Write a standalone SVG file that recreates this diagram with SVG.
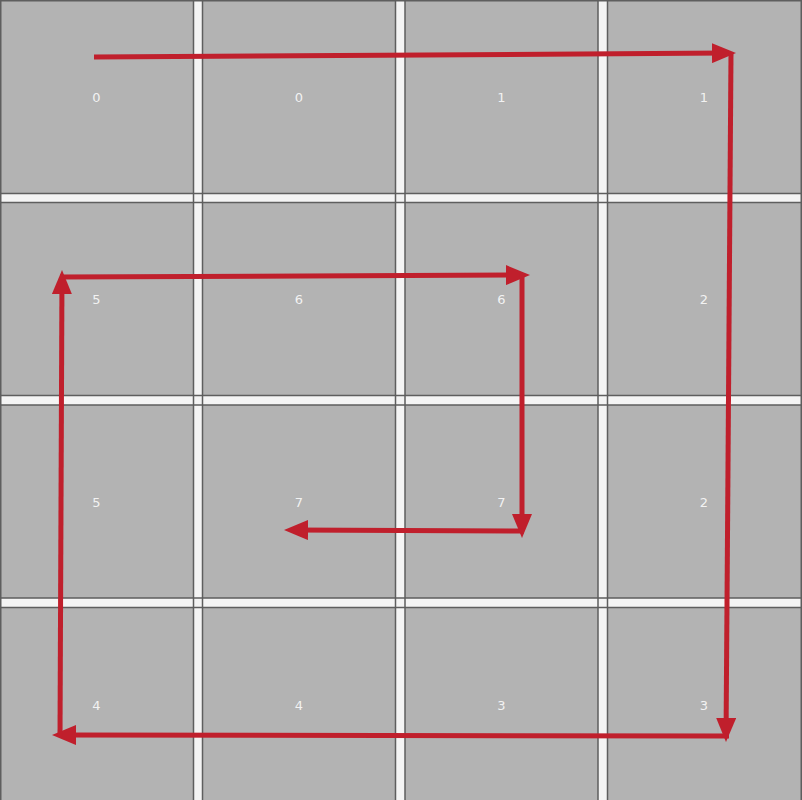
<svg xmlns="http://www.w3.org/2000/svg" width="802" height="800" viewBox="0 0 802 800">
<style>
.cell{fill:#b3b3b3}
.grid{stroke:#5e5e5e;stroke-width:1.5}
.lbl{font-family:"DejaVu Sans","Liberation Sans",sans-serif;font-size:13px;fill:#f2f2f2;text-anchor:middle}
.arrow{fill:none;stroke:#c01f2c;stroke-width:5;marker-end:url(#ah)}
</style>
<defs>
<marker id="ah" markerUnits="userSpaceOnUse" viewBox="0 -10 24 20" refX="14" refY="0" markerWidth="24" markerHeight="20" orient="auto">
<path d="M0,-10 L24,0 L0,10 z" fill="#c01f2c"/>
</marker>
</defs>
<rect x="0" y="0" width="802" height="800" fill="#f4f4f4"/>
<g id="c00"><rect class="cell" x="0.5" y="0.5" width="193" height="193"/><text class="lbl" x="96.5" y="101.5">0</text></g>
<g id="c01"><rect class="cell" x="202.5" y="0.5" width="193" height="193"/><text class="lbl" x="299" y="101.5">0</text></g>
<g id="c02"><rect class="cell" x="405" y="0.5" width="193" height="193"/><text class="lbl" x="501.5" y="101.5">1</text></g>
<g id="c03"><rect class="cell" x="607.5" y="0.5" width="194" height="193"/><text class="lbl" x="704" y="101.5">1</text></g>
<g id="c10"><rect class="cell" x="0.5" y="202.5" width="193" height="193"/><text class="lbl" x="96.5" y="304">5</text></g>
<g id="c11"><rect class="cell" x="202.5" y="202.5" width="193" height="193"/><text class="lbl" x="299" y="304">6</text></g>
<g id="c12"><rect class="cell" x="405" y="202.5" width="193" height="193"/><text class="lbl" x="501.5" y="304">6</text></g>
<g id="c13"><rect class="cell" x="607.5" y="202.5" width="194" height="193"/><text class="lbl" x="704" y="304">2</text></g>
<g id="c20"><rect class="cell" x="0.5" y="405" width="193" height="193"/><text class="lbl" x="96.5" y="506.5">5</text></g>
<g id="c21"><rect class="cell" x="202.5" y="405" width="193" height="193"/><text class="lbl" x="299" y="506.5">7</text></g>
<g id="c22"><rect class="cell" x="405" y="405" width="193" height="193"/><text class="lbl" x="501.5" y="506.5">7</text></g>
<g id="c23"><rect class="cell" x="607.5" y="405" width="194" height="193"/><text class="lbl" x="704" y="506.5">2</text></g>
<g id="c30"><rect class="cell" x="0.5" y="607.5" width="193" height="194"/><text class="lbl" x="96.5" y="709.5">4</text></g>
<g id="c31"><rect class="cell" x="202.5" y="607.5" width="193" height="194"/><text class="lbl" x="299" y="709.5">4</text></g>
<g id="c32"><rect class="cell" x="405" y="607.5" width="193" height="194"/><text class="lbl" x="501.5" y="709.5">3</text></g>
<g id="c33"><rect class="cell" x="607.5" y="607.5" width="194" height="194"/><text class="lbl" x="704" y="709.5">3</text></g>
<g id="gridlines" class="grid">
<line x1="0.75" y1="0" x2="0.75" y2="800"/>
<line x1="193.5" y1="0" x2="193.5" y2="800"/>
<line x1="202.5" y1="0" x2="202.5" y2="800"/>
<line x1="395.5" y1="0" x2="395.5" y2="800"/>
<line x1="405" y1="0" x2="405" y2="800"/>
<line x1="598" y1="0" x2="598" y2="800"/>
<line x1="607.5" y1="0" x2="607.5" y2="800"/>
<line x1="801.25" y1="0" x2="801.25" y2="800"/>
<line x1="0" y1="0.75" x2="802" y2="0.75"/>
<line x1="0" y1="193.5" x2="802" y2="193.5"/>
<line x1="0" y1="202.5" x2="802" y2="202.5"/>
<line x1="0" y1="395.5" x2="802" y2="395.5"/>
<line x1="0" y1="405" x2="802" y2="405"/>
<line x1="0" y1="598" x2="802" y2="598"/>
<line x1="0" y1="607.5" x2="802" y2="607.5"/>
</g>
<g id="connectors">
<line class="arrow" x1="94" y1="57" x2="726" y2="53.06"/>
<line class="arrow" x1="731" y1="53" x2="726.07" y2="732"/>
<line class="arrow" x1="729" y1="736" x2="62" y2="735"/>
<line class="arrow" x1="60" y1="737" x2="61.96" y2="280"/>
<line class="arrow" x1="60" y1="277" x2="520" y2="275"/>
<line class="arrow" x1="522" y1="273" x2="522" y2="528"/>
<line class="arrow" x1="524" y1="531" x2="294" y2="530"/>
</g>
</svg>
